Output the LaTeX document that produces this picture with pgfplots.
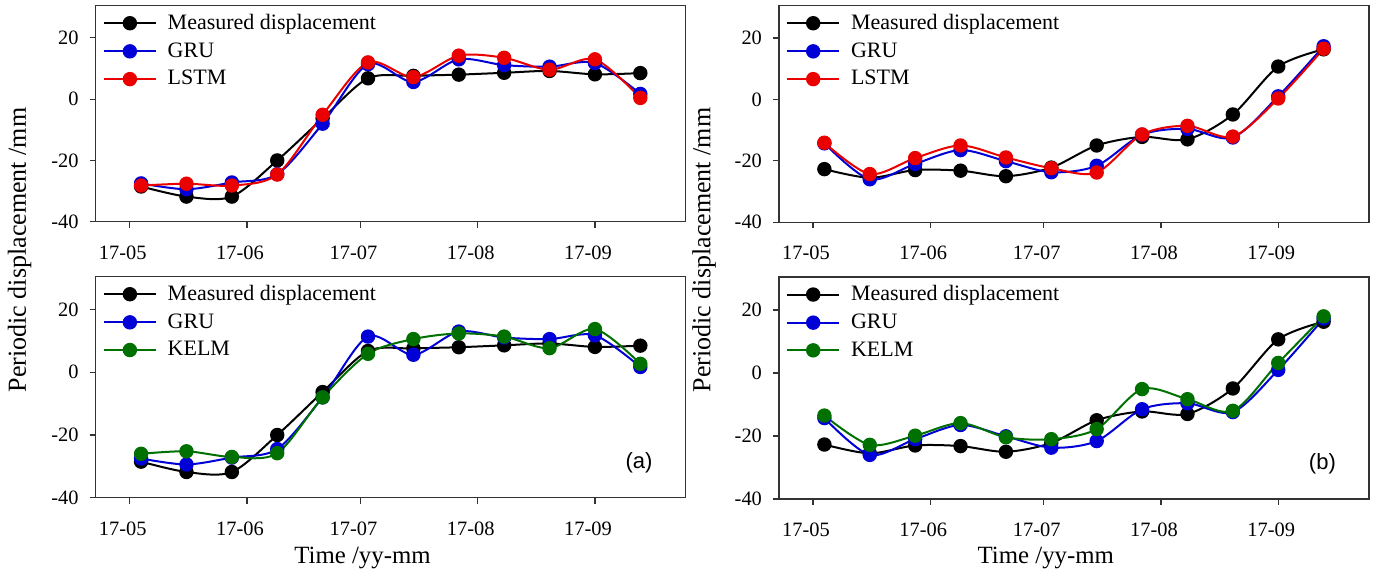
\documentclass[border=0pt]{standalone}
\usepackage{fontspec}
\setmainfont{Liberation Serif}
\newfontfamily\arial{Liberation Sans}
\usepackage{pgfplots}
\pgfplotsset{compat=1.18}
\usepackage{pgfplotstable}

\definecolor{cblue}{RGB}{0,0,215}
\definecolor{cred}{RGB}{235,0,0}
\definecolor{cgreen}{RGB}{0,112,0}

% t in days from 1 May 2017
\pgfplotstableread{
t   ma    ga    la    ka    mb    gb    lb    kb
3   -28.5 -27.5 -28.2 -26.0 -22.7 -14.3 -14.1 -13.5
15  -31.8 -29.4 -27.6 -25.2 -25.5 -26.0 -24.3 -22.8
27  -31.8 -27.2 -28.2 -27.0 -23.0 -21.0 -19.1 -19.9
39  -20.0 -24.5 -24.6 -25.8 -23.2 -16.5 -15.0 -15.9
51  -6.3  -8.0  -5.1  -8.0  -25.0 -20.1 -18.9 -20.4
63  6.8   11.4  12.0  5.9   -22.2 -23.7 -22.4 -21.0
75  7.6   5.6   7.2   10.6  -15.0 -21.6 -23.8 -17.8
87  8.0   13.0  14.2  12.4  -12.2 -11.5 -11.4 -5.1
99  8.6   11.1  13.5  11.4  -13.0 -9.6  -8.6  -8.3
111 9.2   10.6  9.6   7.7   -4.9  -12.4 -12.1 -12.0
123 8.1   11.8  13.0  13.8  10.7  1.0   0.3   3.2
135 8.5   1.7   0.4   2.7   16.3  17.3  16.5  18.0
}\data

\pgfplotsset{
  panel/.style={
    scale only axis, width=295pt,
    xmin=-9, xmax=147, ymin=-40, ymax=30.5,
    xtick={0,31,61,92,123},
    xticklabels={17-05,17-06,17-07,17-08,17-09},
    ytick={-40,-20,0,20}, yticklabels={-40,-20,0,20},
    xtick pos=bottom, ytick pos=left, tick align=outside,
    major tick length=3pt,
    tick style={black!80, line width=0.6pt},
    axis line style={black!80, line width=0.7pt},
    every tick label/.append style={font=\fontsize{10.2}{12}\selectfont},
    xticklabel style={yshift=-5.5pt, xshift=-3.5pt},
    yticklabel style={xshift=-2pt},
    legend cell align=left,
    legend style={at={(0,1)}, anchor=north west, xshift=0.5pt, yshift=0pt,
      draw=none, fill=none, font=\fontsize{11}{13}\selectfont,
      row sep=1.1pt, column sep=3.5pt},
    legend image code/.code={\draw[mark repeat=2,mark phase=2,##1]
      plot coordinates {(0pt,0pt)(12.9pt,0pt)(25.8pt,0pt)};},
    every axis plot/.append style={smooth, line width=1pt, mark=*, mark size=3.1pt},
  },
}

\begin{document}
\begin{tikzpicture}
% top left
\begin{axis}[panel, height=108pt, at={(47.85pt,-2.85pt)}, anchor=north west]
\addplot[black] table[x=t,y=ma]{\data};
\addplot[cblue] table[x=t,y=ga]{\data};
\addplot[cred] table[x=t,y=la]{\data};
\legend{Measured displacement, GRU, LSTM}
\end{axis}
% bottom left
\begin{axis}[panel, height=110.5pt, at={(47.85pt,-138.35pt)}, anchor=north west]
\addplot[black] table[x=t,y=ma]{\data};
\addplot[cblue] table[x=t,y=ga]{\data};
\addplot[cgreen] table[x=t,y=ka]{\data};
\legend{Measured displacement, GRU, KELM}
\node[font=\arial\fontsize{11}{13}\selectfont] at (rel axis cs:0.921,0.157) {(a)};
\end{axis}
% top right
\begin{axis}[panel, height=108.3pt, at={(389.5pt,-2.85pt)}, anchor=north west]
\addplot[black] table[x=t,y=mb]{\data};
\addplot[cblue] table[x=t,y=gb]{\data};
\addplot[cred] table[x=t,y=lb]{\data};
\legend{Measured displacement, GRU, LSTM}
\end{axis}
% bottom right
\begin{axis}[panel, height=111pt, at={(389.5pt,-138.5pt)}, anchor=north west]
\addplot[black] table[x=t,y=mb]{\data};
\addplot[cblue] table[x=t,y=gb]{\data};
\addplot[cgreen] table[x=t,y=kb]{\data};
\legend{Measured displacement, GRU, KELM}
\node[font=\arial\fontsize{11}{13}\selectfont] at (rel axis cs:0.921,0.157) {(b)};
\end{axis}
\node[rotate=90, font=\fontsize{13}{15}\selectfont] at (9.75pt,-125pt) {Periodic displacement /mm};
\node[rotate=90, font=\fontsize{13}{15}\selectfont] at (352pt,-125pt) {Periodic displacement /mm};
\node[font=\fontsize{12.4}{15}\selectfont] at (181.25pt,-278.8pt) {Time /yy-mm};
\node[font=\fontsize{12.4}{15}\selectfont] at (522.9pt,-278.8pt) {Time /yy-mm};
\pgfresetboundingbox
\path[use as bounding box] (0,0) rectangle (686.5pt,-286pt);
\end{tikzpicture}
\end{document}
